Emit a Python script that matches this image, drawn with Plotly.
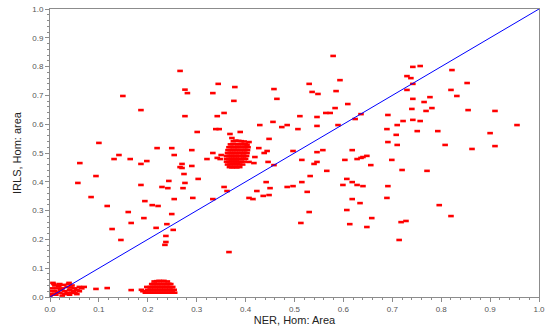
import plotly.graph_objects as go

# scattered points (NER, IRLS)
ner_scatter = [
    0.149, 0.186, 0.276, 0.301, 0.100, 0.219, 0.249, 0.254, 0.290, 0.321,
    0.061, 0.131, 0.141, 0.164, 0.186, 0.198, 0.270, 0.266, 0.270, 0.290,
    0.274, 0.094, 0.057, 0.186, 0.243, 0.229, 0.241, 0.272, 0.276, 0.303,
    0.084, 0.292, 0.254, 0.117, 0.194, 0.209, 0.221, 0.160, 0.249, 0.192,
    0.166, 0.239, 0.217, 0.252, 0.127, 0.237, 0.145, 0.237, 0.235, 0.366,
    0.094, 0.117, 0.166, 0.198,
    0.376, 0.342, 0.356, 0.511, 0.546, 0.429, 0.456, 0.507, 0.546, 0.339,
    0.346, 0.368, 0.389, 0.372, 0.448, 0.407, 0.427, 0.438, 0.444, 0.333,
    0.350, 0.342, 0.419, 0.348, 0.497, 0.546, 0.515, 0.446, 0.417, 0.407,
    0.458, 0.546, 0.540, 0.532, 0.515, 0.442, 0.450, 0.485, 0.497, 0.526,
    0.356, 0.362, 0.333, 0.407, 0.415, 0.448, 0.436, 0.423, 0.344, 0.378,
    0.333, 0.458, 0.464, 0.530, 0.593, 0.536, 0.548, 0.585, 0.609, 0.583,
    0.564, 0.573, 0.691, 0.636, 0.624, 0.474, 0.485, 0.589, 0.689, 0.710,
    0.708, 0.691, 0.710, 0.558, 0.618, 0.603, 0.628, 0.636, 0.640, 0.648,
    0.656, 0.699, 0.566, 0.607, 0.618, 0.599, 0.628, 0.640, 0.691,
    0.742, 0.757, 0.822, 0.730, 0.738, 0.742, 0.853, 0.730, 0.820, 0.832,
    0.777, 0.742, 0.765, 0.740, 0.769, 0.781, 0.855, 0.910, 0.722, 0.742,
    0.757, 0.751, 0.793, 0.900, 0.808, 0.910, 0.863, 0.530, 0.513, 0.618,
    0.634, 0.689, 0.607, 0.658, 0.648, 0.613, 0.718, 0.728, 0.714, 0.796,
    0.820, 0.720, 0.771, 0.579,
    0.266, 0.276, 0.281, 0.955,
]
irls_scatter = [
    0.698, 0.649, 0.628, 0.573, 0.535, 0.517, 0.517, 0.493, 0.510, 0.479,
    0.465, 0.479, 0.493, 0.479, 0.462, 0.472, 0.462, 0.451, 0.448, 0.455,
    0.427, 0.420, 0.396, 0.389, 0.403, 0.382, 0.378, 0.378, 0.396, 0.410,
    0.347, 0.344, 0.340, 0.316, 0.333, 0.319, 0.316, 0.295, 0.288, 0.274,
    0.257, 0.253, 0.240, 0.233, 0.236, 0.212, 0.198, 0.191, 0.181, 0.156,
    0.028, 0.031, 0.024, 0.035,
    0.681, 0.628, 0.639, 0.628, 0.625, 0.597, 0.608, 0.583, 0.594, 0.583,
    0.583, 0.566, 0.573, 0.552, 0.549, 0.538, 0.517, 0.500, 0.507, 0.500,
    0.493, 0.483, 0.486, 0.479, 0.507, 0.503, 0.476, 0.469, 0.465, 0.469,
    0.458, 0.469, 0.462, 0.420, 0.399, 0.399, 0.378, 0.382, 0.385, 0.365,
    0.382, 0.368, 0.340, 0.344, 0.340, 0.354, 0.351, 0.368, 0.740, 0.729,
    0.708, 0.722, 0.688, 0.740, 0.753, 0.712, 0.705, 0.715, 0.670, 0.656,
    0.639, 0.639, 0.632, 0.635, 0.618, 0.590, 0.597, 0.597, 0.583, 0.597,
    0.563, 0.538, 0.528, 0.510, 0.510, 0.476, 0.479, 0.483, 0.486, 0.490,
    0.458, 0.476, 0.438, 0.410, 0.399, 0.389, 0.389, 0.385, 0.385,
    0.799, 0.802, 0.788, 0.767, 0.760, 0.740, 0.743, 0.719, 0.719, 0.698,
    0.694, 0.688, 0.677, 0.653, 0.646, 0.656, 0.649, 0.646, 0.611, 0.615,
    0.611, 0.576, 0.576, 0.569, 0.528, 0.524, 0.514, 0.295, 0.257, 0.340,
    0.326, 0.344, 0.302, 0.274, 0.243, 0.253, 0.260, 0.264, 0.198, 0.319,
    0.281, 0.441, 0.438, 0.837,
    0.785, 0.720, 0.708, 0.597,
]

# dense cluster near (0.38, 0.50)
ner_cluster_mid = [
    0.375, 0.380, 0.386, 0.391, 0.397,
    0.369, 0.374, 0.379, 0.384, 0.389, 0.394, 0.399, 0.403,
    0.366, 0.371, 0.376, 0.381, 0.386, 0.391, 0.396, 0.401, 0.405,
    0.364, 0.369, 0.374, 0.379, 0.384, 0.389, 0.394, 0.399, 0.404,
    0.363, 0.368, 0.373, 0.378, 0.383, 0.388, 0.393, 0.398, 0.403,
    0.361, 0.366, 0.371, 0.376, 0.381, 0.386, 0.391, 0.396, 0.402,
    0.361, 0.366, 0.371, 0.376, 0.381, 0.386, 0.391, 0.396, 0.400,
    0.361, 0.366, 0.371, 0.376, 0.381, 0.386, 0.391, 0.397,
    0.363, 0.368, 0.373, 0.378, 0.383, 0.388, 0.394,
    0.367, 0.372, 0.377, 0.382, 0.388,
]
irls_cluster_mid = [
    0.541, 0.543, 0.542, 0.541, 0.540,
    0.530, 0.531, 0.531, 0.530, 0.531, 0.530, 0.531, 0.529,
    0.520, 0.521, 0.520, 0.521, 0.520, 0.521, 0.520, 0.521, 0.520,
    0.510, 0.510, 0.511, 0.510, 0.511, 0.510, 0.510, 0.511, 0.510,
    0.500, 0.500, 0.501, 0.500, 0.501, 0.500, 0.500, 0.501, 0.500,
    0.490, 0.490, 0.491, 0.490, 0.491, 0.490, 0.490, 0.491, 0.490,
    0.480, 0.480, 0.481, 0.480, 0.481, 0.480, 0.480, 0.481, 0.480,
    0.470, 0.470, 0.471, 0.470, 0.471, 0.470, 0.470, 0.470,
    0.460, 0.460, 0.461, 0.460, 0.461, 0.460, 0.460,
    0.451, 0.450, 0.451, 0.450, 0.451,
]

# dense cluster near (0.23, 0.03)
ner_cluster_low = [
    0.213, 0.218, 0.223, 0.228, 0.233, 0.240,
    0.208, 0.213, 0.218, 0.223, 0.228, 0.233, 0.238, 0.243, 0.247,
    0.205, 0.210, 0.215, 0.220, 0.225, 0.230, 0.235, 0.240, 0.245, 0.251,
    0.200, 0.205, 0.210, 0.215, 0.220, 0.225, 0.230, 0.235, 0.240, 0.245, 0.250, 0.254,
    0.195, 0.200, 0.205, 0.210, 0.215, 0.220, 0.225, 0.230, 0.235, 0.240, 0.245, 0.250, 0.255,
    0.190, 0.187,
]
irls_cluster_low = [
    0.054, 0.055, 0.056, 0.055, 0.056, 0.054,
    0.045, 0.046, 0.045, 0.046, 0.045, 0.046, 0.045, 0.046, 0.045,
    0.035, 0.036, 0.035, 0.036, 0.035, 0.036, 0.035, 0.036, 0.035, 0.035,
    0.025, 0.026, 0.025, 0.026, 0.025, 0.026, 0.025, 0.026, 0.025, 0.026, 0.025, 0.025,
    0.015, 0.016, 0.015, 0.016, 0.015, 0.016, 0.015, 0.016, 0.015, 0.016, 0.015, 0.016, 0.015,
    0.020, 0.025,
]

# cluster near origin
ner_cluster_origin = [
    0.005, 0.010, 0.015, 0.020, 0.010, 0.005, 0.020, 0.030, 0.035, 0.040,
    0.045, 0.050, 0.055, 0.060, 0.065, 0.025, 0.012, 0.030, 0.045, 0.055,
    0.008, 0.018, 0.028, 0.038, 0.048, 0.003, 0.000, 0.015, 0.025, 0.040,
    0.070, 0.060, 0.035, 0.022, 0.042, 0.006, 0.039, 0.051,
]
irls_cluster_origin = [
    0.010, 0.020, 0.030, 0.045, 0.040, 0.030, 0.015, 0.020, 0.035, 0.025,
    0.040, 0.030, 0.025, 0.035, 0.030, 0.030, 0.008, 0.010, 0.015, 0.010,
    0.045, 0.038, 0.042, 0.045, 0.020, 0.020, 0.005, 0.015, 0.005, 0.008,
    0.035, 0.020, 0.015, 0.025, 0.033, 0.049, 0.049, 0.014,
]

diag = [0.0, 1.0]
tick_vals = [0.0, 0.1, 0.2, 0.3, 0.4, 0.5, 0.6, 0.7, 0.8, 0.9, 1.0]
tick_text = ["0.0", "0.1", "0.2", "0.3", "0.4", "0.5", "0.6", "0.7", "0.8", "0.9", "1.0"]

xs = ner_scatter + ner_cluster_mid + ner_cluster_low + ner_cluster_origin
ys = irls_scatter + irls_cluster_mid + irls_cluster_low + irls_cluster_origin

fig = go.Figure()
fig.add_trace(go.Scatter(
    x=xs, y=ys, mode="markers",
    marker=dict(symbol="line-ew", size=4, color="#ff0000",
                line=dict(width=2.6, color="#ff0000")),
    showlegend=False, hoverinfo="x+y",
))
fig.add_trace(go.Scatter(
    x=diag, y=diag, mode="lines",
    line=dict(color="#0000ff", width=1),
    showlegend=False, hoverinfo="skip",
))

axis_common = dict(
    range=[0, 1], tickvals=tick_vals, ticktext=tick_text,
    showgrid=False, zeroline=False, automargin=False,
    showline=True, linecolor="#8c8c8c", linewidth=1, mirror=True,
    ticks="outside", ticklen=4, tickcolor="#8c8c8c", tickwidth=1,
    tickfont=dict(family="Liberation Sans, Arial, sans-serif", size=8, color="#555555"),
    minor=dict(dtick=0.02, ticks="outside", ticklen=2, tickcolor="#8c8c8c", tickwidth=1),
)

fig.update_layout(
    width=550, height=327,
    margin=dict(l=50, r=11, t=9, b=30),
    paper_bgcolor="white", plot_bgcolor="white",
    xaxis=dict(axis_common, title=dict(text="NER, Hom: Area", standoff=3,
               font=dict(family="Liberation Sans, Arial, sans-serif", size=11, color="#222222"))),
    yaxis=dict(axis_common, title=dict(text="IRLS, Hom: area", standoff=8,
               font=dict(family="Liberation Sans, Arial, sans-serif", size=11, color="#222222"))),
)

# remove the default 8px page margin so the figure sits at the window's corner
fig.write_html("out.html", config={"displayModeBar": False},
               post_script="document.body.style.margin='0px';")
